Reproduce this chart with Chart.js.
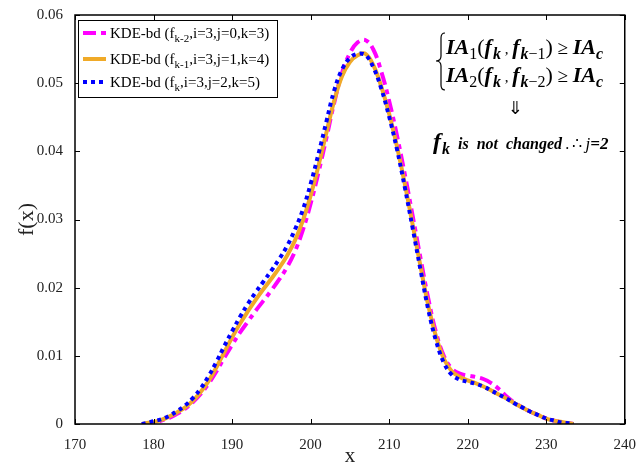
<!DOCTYPE html>
<html>
<head>
<meta charset="utf-8">
<script src="https://cdn.jsdelivr.net/npm/chart.js@4.4.1/dist/chart.umd.min.js"></script>
<style>
  html, body { margin: 0; padding: 0; background: #fff; }
  #wrap { width: 640px; height: 465px; position: relative; }
</style>
</head>
<body>
<div id="wrap"><canvas id="c" width="640" height="465"></canvas></div>
<script>
// Sample grid (x) shared by the three density estimates
const xs = [178.5, 179, 180, 181, 182, 183, 184, 185, 186, 187, 188, 189, 190, 191, 192, 193, 194, 195, 196, 197,
  198, 199, 200, 201, 202, 203, 204, 205, 206, 207, 208, 209, 210, 211, 212, 213, 214, 215, 216, 217,
  218, 219, 220, 221, 222, 223, 224, 225, 226, 227, 228, 229, 230, 231, 232, 233, 233.5];

// f_{k-2}: i=3, j=0, k=3
const fkm2 = [0, 0.0000, 0.0002, 0.0005, 0.0009, 0.0015, 0.0022, 0.0032, 0.0044, 0.0059, 0.0077, 0.0097, 0.0116, 0.0134, 0.0150, 0.0166, 0.0181, 0.0196, 0.0212, 0.0230,
  0.0253, 0.0284, 0.0323, 0.0369, 0.0419, 0.0471, 0.0515, 0.0544, 0.0560, 0.0563, 0.0549, 0.0517, 0.0474, 0.0423, 0.0366, 0.0305, 0.0243, 0.0183, 0.0133, 0.0099,
  0.0081, 0.0074, 0.0071, 0.0069, 0.0066, 0.0060, 0.0051, 0.0040, 0.0031, 0.0024, 0.0018, 0.0013, 0.0008, 0.0005, 0.0002, 0.0001, 0];

// f_{k-1}: i=3, j=1, k=4
const fkm1 = [0, 0.0001, 0.0003, 0.0006, 0.0011, 0.0017, 0.0024, 0.0034, 0.0047, 0.0063, 0.0083, 0.0105, 0.0127, 0.0147, 0.0165, 0.0182, 0.0198, 0.0213, 0.0229, 0.0247,
  0.0269, 0.0298, 0.0335, 0.0379, 0.0427, 0.0474, 0.0510, 0.0531, 0.0541, 0.0543, 0.0526, 0.0495, 0.0455, 0.0407, 0.0352, 0.0292, 0.0231, 0.0173, 0.0127, 0.0095,
  0.0077, 0.0069, 0.0064, 0.0060, 0.0055, 0.0049, 0.0043, 0.0037, 0.0030, 0.0024, 0.0018, 0.0013, 0.0008, 0.0005, 0.0003, 0.0001, 0];

// f_k: i=3, j=2, k=5
const fk = [0, 0.0001, 0.0004, 0.0007, 0.0012, 0.0019, 0.0027, 0.0038, 0.0052, 0.0070, 0.0091, 0.0114, 0.0136, 0.0157, 0.0176, 0.0193, 0.0209, 0.0225, 0.0242, 0.0261,
  0.0285, 0.0314, 0.0352, 0.0396, 0.0443, 0.0489, 0.0520, 0.0537, 0.0543, 0.0541, 0.0523, 0.0492, 0.0451, 0.0403, 0.0347, 0.0287, 0.0226, 0.0167, 0.0121, 0.0089,
  0.0072, 0.0065, 0.0062, 0.0059, 0.0055, 0.0049, 0.0043, 0.0037, 0.0030, 0.0024, 0.0018, 0.0013, 0.0008, 0.0005, 0.0002, 0.0001, 0];

const xTicks = [170, 180, 190, 200, 210, 220, 230, 240];
const yTicks = [0, 0.01, 0.02, 0.03, 0.04, 0.05, 0.06];

const legendItems = [
  { pre: 'KDE-bd (f', sub: 'k-2', post: ',i=3,j=0,k=3)' },
  { pre: 'KDE-bd (f', sub: 'k-1', post: ',i=3,j=1,k=4)' },
  { pre: 'KDE-bd (f', sub: 'k', post: ',i=3,j=2,k=5)' }
];

const SERIF = "'Liberation Serif', 'Times New Roman', serif";
const MAGENTA = '#ff00ff', ORANGE = '#f0aa28', BLUE = '#0000ff';

const pts = ys => xs.map((x, i) => ({ x: x, y: ys[i] }));

// Frame, inward tick marks, legend box and the annotation text
const decor = {
  id: 'decor',
  afterDraw(chart) {
    const ctx = chart.ctx;
    const a = chart.chartArea;
    const sx = chart.scales.x, sy = chart.scales.y;
    ctx.save();
    ctx.strokeStyle = '#000';
    // box
    ctx.lineWidth = 1.5;
    ctx.strokeRect(a.left, a.top, a.right - a.left, a.bottom - a.top);
    // ticks pointing inwards
    ctx.lineWidth = 1;
    ctx.beginPath();
    xTicks.forEach(v => {
      const px = Math.round(sx.getPixelForValue(v)) + 0.5;
      ctx.moveTo(px, a.bottom); ctx.lineTo(px, a.bottom - 5);
      ctx.moveTo(px, a.top); ctx.lineTo(px, a.top + 5);
    });
    yTicks.forEach(v => {
      const py = Math.round(sy.getPixelForValue(v)) + 0.5;
      ctx.moveTo(a.left, py); ctx.lineTo(a.left + 5, py);
      ctx.moveTo(a.right, py); ctx.lineTo(a.right - 5, py);
    });
    ctx.stroke();

    // legend
    const lx = 78, ly = 20, lw = 199, lh = 77;
    ctx.fillStyle = '#fff';
    ctx.fillRect(lx, ly, lw, lh);
    ctx.lineWidth = 1;
    ctx.strokeRect(lx + 0.5, ly + 0.5, lw, lh);
    const rows = [33, 59, 82];
    chart.data.datasets.forEach((ds, i) => {
      const y = rows[i];
      ctx.save();
      ctx.strokeStyle = ds.borderColor;
      ctx.lineWidth = ds.borderWidth;
      ctx.setLineDash(ds.borderDash || []);
      ctx.lineCap = 'butt';
      ctx.beginPath();
      ctx.moveTo(83, y); ctx.lineTo(106, y);
      ctx.stroke();
      ctx.restore();
      const it = legendItems[i];
      ctx.fillStyle = '#000';
      ctx.textBaseline = 'alphabetic';
      ctx.textAlign = 'left';
      ctx.font = '15px ' + SERIF;
      let x = 110;
      const base = y + 5;
      ctx.fillText(it.pre, x, base); x += ctx.measureText(it.pre).width;
      ctx.font = '11px ' + SERIF;
      ctx.fillText(it.sub, x, base + 4); x += ctx.measureText(it.sub).width;
      ctx.font = '15px ' + SERIF;
      ctx.fillText(it.post, x, base);
    });

    // annotation: runs of [text, font, dy, extra advance]
    const BI = s => 'bold italic ' + s + 'px ' + SERIF;
    const R = s => s + 'px ' + SERIF;
    const I = s => 'italic ' + s + 'px ' + SERIF;
    const drawRuns = (runs, x, base) => {
      runs.forEach(r => {
        ctx.font = r[1];
        ctx.fillText(r[0], x, base + (r[2] || 0));
        x += ctx.measureText(r[0]).width + (r[3] || 0);
      });
    };
    ctx.fillStyle = '#000';
    const ineq = (n, base) => drawRuns([
      ['IA', BI(22)], [n, R(16), 5], ['(', R(22)], ['f', BI(22), 0, 1], ['k', BI(16), 5], [' , ', R(15)],
      ['f', BI(22), 0, 1], ['k', BI(16), 5], ['\u2212' + n, R(16), 5], [')', R(22)], [' \u2265 ', R(19)],
      ['IA', BI(22)], ['c', BI(16), 5]
    ], 446, base);
    ineq('1', 54);
    ineq('2', 82);
    // double down arrow
    ctx.font = "18px 'DejaVu Sans', sans-serif";
    ctx.textAlign = 'center';
    ctx.fillText('\u21d3', 515, 114);
    ctx.textAlign = 'left';
    drawRuns([
      ['f', BI(24), 0, 1], ['k', BI(16), 5], ['  is  not  changed', BI(16)], ['\u2009.\u2009\u2234\u2009', R(16)],
      ['j', I(17)], ['=2', BI(17)]
    ], 433, 149);

    // left brace spanning both inequalities
    ctx.lineWidth = 1.2;
    ctx.beginPath();
    const bx = 441, top = 33, mid = 61, bot = 90;
    ctx.moveTo(bx + 4, top);
    ctx.quadraticCurveTo(bx, top, bx, top + 5);
    ctx.lineTo(bx, mid - 5);
    ctx.quadraticCurveTo(bx, mid, bx - 5, mid);
    ctx.quadraticCurveTo(bx, mid, bx, mid + 5);
    ctx.lineTo(bx, bot - 5);
    ctx.quadraticCurveTo(bx, bot, bx + 4, bot);
    ctx.stroke();
    ctx.restore();
  }
};

new Chart(document.getElementById('c'), {
  type: 'line',
  data: {
    datasets: [
      { label: 'f_{k-2}', data: pts(fkm2), borderColor: MAGENTA, borderWidth: 4, borderDash: [13, 5, 5, 5], order: 3 },
      { label: 'f_{k-1}', data: pts(fkm1), borderColor: ORANGE, borderWidth: 4, order: 2 },
      { label: 'f_k', data: pts(fk), borderColor: BLUE, borderWidth: 4, borderDash: [4, 4], order: 1 }
    ]
  },
  options: {
    responsive: false,
    animation: false,
    devicePixelRatio: 1,
    layout: { padding: { top: 15, right: 12, left: 0, bottom: 0 } },
    elements: {
      point: { radius: 0 },
      line: { tension: 0.4, fill: false, borderCapStyle: 'butt' }
    },
    plugins: { legend: { display: false }, tooltip: { enabled: false } },
    scales: {
      x: {
        type: 'linear', min: 170, max: 240,
        afterBuildTicks: s => { s.ticks = xTicks.map(v => ({ value: v })); },
        afterFit: s => { s.height = 41; },
        grid: { display: false },
        border: { display: false },
        ticks: { font: { family: SERIF, size: 15 }, color: '#222', padding: 4, maxRotation: 0, callback: v => String(v) },
        title: { display: true, text: 'x', font: { family: SERIF, size: 21, lineHeight: 1 }, color: '#222', padding: { top: 0, bottom: -2 } }
      },
      y: {
        type: 'linear', min: 0, max: 0.06,
        afterBuildTicks: s => { s.ticks = yTicks.map(v => ({ value: v })); },
        afterFit: s => { s.width = 75; },
        grid: { display: false },
        border: { display: false },
        ticks: { font: { family: SERIF, size: 15 }, color: '#222', padding: 4, callback: v => (v === 0 ? '0' : v.toFixed(2)) },
        title: { display: true, text: 'f(x)', font: { family: SERIF, size: 22, lineHeight: 1 }, color: '#222', padding: { top: 16, bottom: 0 } }
      }
    }
  },
  plugins: [decor]
});
</script>
</body>
</html>
